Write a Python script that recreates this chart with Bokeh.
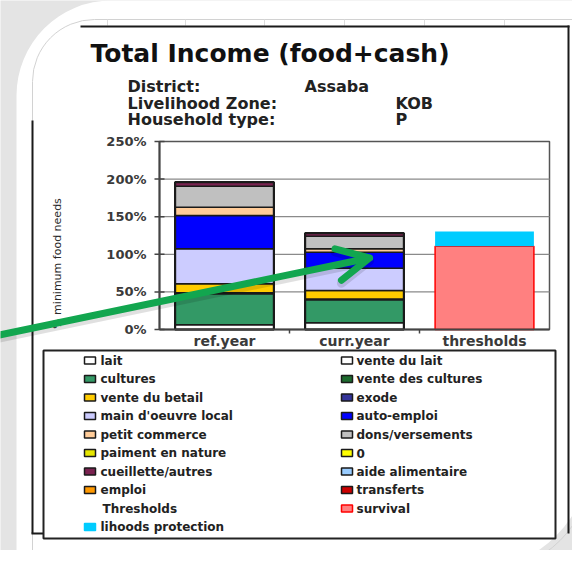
from bokeh.plotting import figure
from bokeh.models import Range1d, Label, BoxAnnotation, Arrow, OpenHead, ColumnDataSource
from bokeh.core.properties import value
from bokeh.embed import file_html
from bokeh.resources import INLINE

# ---------------- data ----------------
categories = ["ref.year", "curr.year", "thresholds"]
ytick_values = [0, 50, 100, 150, 200, 250]
ytick_labels = ["0%", "50%", "100%", "150%", "200%", "250%"]

lait = [6.2, 8.9, 0]
vente_du_lait = [0, 0, 0]
cultures = [41.2, 30.6, 0]
vente_des_cultures = [1.5, 1.0, 0]
vente_du_betail = [11.8, 11.4, 0]
exode = [0, 0, 0]
main_doeuvre_local = [46.6, 29.7, 0]
auto_emploi = [44.3, 21.2, 0]
petit_commerce = [11.1, 4.5, 0]
dons_versements = [27.9, 16.8, 0]
paiment_en_nature = [0, 0, 0]
zero_item = [0, 0, 0]
cueillette_autres = [5.3, 4.0, 0]
aide_alimentaire = [0, 0, 0]
emploi = [0, 0, 0]
transferts = [0, 0, 0]
survival = [0, 0, 110.8]
lihoods_protection = [0, 0, 19.5]

title_text = "Total Income (food+cash)"
info_labels = ["District:", "Livelihood Zone:", "Household type:"]
info_values = ["Assaba", "KOB", "P"]
y_axis_title = "% minimum food needs"

# (legend label, values, fill, line colour)
series = [
    ("lait", lait, "#ffffff", "#1a1a1a"),
    ("vente du lait", vente_du_lait, "#ffffff", "#1a1a1a"),
    ("cultures", cultures, "#339966", "#1a1a1a"),
    ("vente des cultures", vente_des_cultures, "#1d6b2e", "#1a1a1a"),
    ("vente du betail", vente_du_betail, "#ffcc00", "#1a1a1a"),
    ("exode", exode, "#333399", "#1a1a1a"),
    ("main d'oeuvre local", main_doeuvre_local, "#ccccff", "#1a1a1a"),
    ("auto-emploi", auto_emploi, "#0000ff", "#1a1a1a"),
    ("petit commerce", petit_commerce, "#ffcc99", "#1a1a1a"),
    ("dons/versements", dons_versements, "#c0c0c0", "#1a1a1a"),
    ("paiment en nature", paiment_en_nature, "#e6e600", "#1a1a1a"),
    ("0", zero_item, "#ffff00", "#1a1a1a"),
    ("cueillette/autres", cueillette_autres, "#7a2250", "#1a1a1a"),
    ("aide alimentaire", aide_alimentaire, "#99ccff", "#1a1a1a"),
    ("emploi", emploi, "#ff9900", "#1a1a1a"),
    ("transferts", transferts, "#cc0000", "#1a1a1a"),
    ("survival", survival, "#ff8080", "#ff0000"),
    ("lihoods protection", lihoods_protection, "#00ccff", None),
]

legend_rows = [
    ("lait", "vente du lait"),
    ("cultures", "vente des cultures"),
    ("vente du betail", "exode"),
    ("main d'oeuvre local", "auto-emploi"),
    ("petit commerce", "dons/versements"),
    ("paiment en nature", "0"),
    ("cueillette/autres", "aide alimentaire"),
    ("emploi", "transferts"),
    ("Thresholds", "survival"),
    ("lihoods protection", None),
]

# ---------------- layout constants (canvas pixels) ----------------
W, H = 572, 550
PL, PR, PT, PB = 159, 549, 141, 329      # plot area inside the canvas
YMAX = ytick_values[-1]
ncat = len(categories)
ux = ncat / (PR - PL)
uy = YMAX / (PB - PT)
x_range = Range1d(-PL * ux, ncat + (W - PR) * ux)
y_range = Range1d(-(H - PB) * uy, YMAX + PT * uy)

p = figure(width=W, height=H, x_range=x_range, y_range=y_range,
           x_axis_location=None, y_axis_location=None,
           output_backend="svg", toolbar_location=None,
           min_border=0, min_border_left=0, min_border_right=0,
           min_border_top=0, min_border_bottom=0)
p.outline_line_color = None
p.background_fill_color = "#e4e4e4"
p.border_fill_color = "#e4e4e4"
p.grid.visible = False

OX, OY = 8, 8   # page margin: picture pixel -> screen units
def sx(ix):
    return ix - OX
def sy(iy):
    return (H + OY) - iy

def box(l, r, t, b, level="image", **kw):
    kw.setdefault("fill_alpha", 1)
    kw.setdefault("line_alpha", 1)
    p.add_layout(BoxAnnotation(left=sx(l), right=sx(r), top=sy(t), bottom=sy(b),
                               left_units="screen", right_units="screen",
                               top_units="screen", bottom_units="screen",
                               level=level, **kw))

# decorative panel
box(24, 600, 8, 580, fill_color="#ffffff", line_color=None, border_radius=(95, 0, 125, 0))
box(40, 600, 27, 580, fill_color=None, line_color="#d2d2d2", line_width=1,
    border_radius=(62, 0, 110, 0))
for gx in [115, 193, 272, 352, 432, 512]:
    box(gx - 0.5, gx + 0.5, 27, 33, fill_color="#dcdcdc", line_color=None)
# chart box border lines
for (l, r, t, b) in [(88, 577, 33, 35), (575, 577, 33, 541), (39, 41, 128, 541),
                     (39, 530, 540, 542)]:
    box(l, r, t, b, fill_color="#1a1a1a", line_color=None)
# legend box
box(51, 563, 358, 546, level="underlay", fill_color="#ffffff", line_color="#222222",
    line_width=2)

# ---------------- plot area (through data scales) ----------------
xpos = [i + 0.5 for i in range(ncat)]
p.quad(left=0, right=ncat, bottom=0, top=YMAX, fill_color="#ffffff",
       line_color="#555555", line_width=1.5)
p.segment(x0=[0] * (len(ytick_values) - 2), x1=[ncat] * (len(ytick_values) - 2),
          y0=ytick_values[1:-1], y1=ytick_values[1:-1], line_color="#8a8a8a",
          line_width=1.2)

cum = [0.0] * ncat
for name, vals, fill, line in series:
    xs, bots, tops = [], [], []
    for i in range(ncat):
        if vals[i] > 0:
            xs.append(xpos[i])
            bots.append(cum[i])
            tops.append(cum[i] + vals[i])
            cum[i] += vals[i]
    if not xs:
        continue
    src = ColumnDataSource(dict(x=xs, bottom=bots, top=tops))
    p.vbar(x="x", bottom="bottom", top="top", width=0.76, source=src,
           fill_color=fill, line_color=line, line_width=1.5 if line else 0)

income_series = [s for s in series if s[0] not in ("survival", "lihoods protection")]
totals = [sum(s[1][i] for s in income_series) for i in range(2)]
p.vbar(x=xpos[:2], top=totals, bottom=0, width=0.76, fill_color=None,
       line_color="#1a1a1a", line_width=2.2)

# axes lines, ticks and tick labels
p.segment(x0=[0, 0], y0=[0, 0], x1=[0, ncat], y1=[YMAX, 0], line_color="#444444",
          line_width=2)
p.scatter(x=[0] * len(ytick_values), y=ytick_values, marker="dash", size=10,
          line_color="#444444", line_width=1.5)
bounds = list(range(1, ncat))
p.segment(x0=bounds, x1=bounds, y0=[0] * len(bounds), y1=[-4 * uy] * len(bounds),
          line_color="#444444", line_width=1.5)
p.text(x=[0] * len(ytick_values), y=ytick_values, text=ytick_labels, x_offset=-13,
       text_align="right", text_baseline="middle", text_font=value("DejaVu Sans"),
       text_font_style="bold", text_font_size="13px", text_color="#3a3a3a")
p.text(x=xpos, y=[0] * ncat, text=categories, y_offset=11, text_align="center",
       text_baseline="middle", text_font=value("DejaVu Sans"),
       text_font_style="bold", text_font_size="14px", text_color="#3a3a3a")

# ---------------- texts ----------------
def lab(text, ix, iy, size, style="bold", color="#111111", angle=0, align="left"):
    p.add_layout(Label(x=sx(ix), y=sy(iy), x_units="screen", y_units="screen",
                       text=text, text_font="DejaVu Sans", text_font_size=size,
                       text_font_style=style, text_color=color, angle=angle,
                       text_baseline="middle", text_align=align))

lab(title_text, 98, 61, "25px")
info_y = [94, 111, 127]
value_x = [312, 403, 403]
for k in range(3):
    lab(info_labels[k], 135, info_y[k], "16px", color="#222222")
    lab(info_values[k], value_x[k], info_y[k], "16px", color="#222222")
lab(y_axis_title, 65, 271, "11px", style="normal", color="#2a2a2a",
    angle=1.5707963, align="center")

# ---------------- legend ----------------
fill_of = {s[0]: s[2] for s in series}
line_of = {s[0]: (s[3] or s[2]) for s in series}
for r, pair in enumerate(legend_rows):
    cy = 368 + 18.5 * r
    for c, name in enumerate(pair):
        if name is None:
            continue
        x_sw = 92 if c == 0 else 349
        x_tx = 108 if c == 0 else 364
        if name in fill_of:
            box(x_sw, x_sw + 11, cy - 3.5, cy + 3.5, level="annotation",
                fill_color=fill_of[name], line_color=line_of[name], line_width=1.5)
        else:
            x_tx = 110
        lab(name, x_tx, cy, "12px", color="#222222")

# ---------------- green arrow ----------------
green = "#12a64f"
p.add_layout(Arrow(x_start=sx(0), y_start=sy(347), x_end=sx(377), y_end=sy(268.5),
                   start_units="screen", end_units="screen",
                   line_color="#000000", line_alpha=0.12, line_width=9,
                   end=OpenHead(size=32, line_color="#000000", line_alpha=0.12,
                                line_width=9, line_cap="round", line_join="round"),
                   level="overlay"))
p.add_layout(Arrow(x_start=sx(0), y_start=sy(344), x_end=sx(377), y_end=sy(265.5),
                   start_units="screen", end_units="screen",
                   line_color=green, line_width=7, line_cap="round",
                   end=OpenHead(size=32, line_color=green, line_width=7,
                                line_cap="round", line_join="round"),
                   level="overlay"))

open("out.html", "w").write(file_html(p, INLINE))
